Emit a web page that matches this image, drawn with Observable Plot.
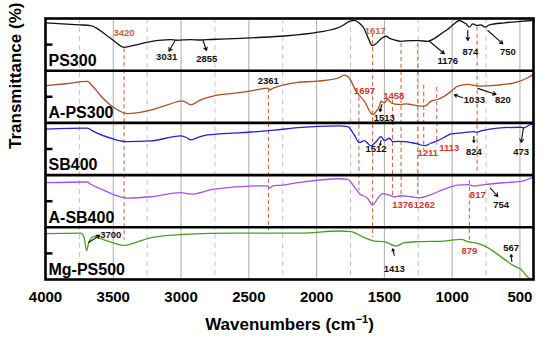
<!DOCTYPE html>
<html><head><meta charset="utf-8">
<script src="https://cdn.jsdelivr.net/npm/d3@7"></script>
<script src="https://cdn.jsdelivr.net/npm/@observablehq/plot@0.6"></script>
<style>
body{margin:0;background:#fff}
svg{display:block}
g[aria-label="x-axis tick label"] text{font-weight:bold}
</style>
</head><body><div id="chart"></div>
<script>
// ---- data ----
const samples = ["PS300", "A-PS300", "SB400", "A-SB400", "Mg-PS500"];
const sampleColors = ["#111111", "#a8502a", "#2222d4", "#a452e8", "#4c9c24"];

// [wavenumber (cm-1), transmittance within panel (%)]
const ps300 = [[4000,91.7],[3750,87.9],[3667,86.5],[3550,68],[3480,54],[3420,44.8],[3340,49],[3225,55.8],[3075,59.6],[3031,58.3],[2928,59.6],[2855,58.8],[2780,59.8],[2560,62.1],[2265,66],[1990,73.7],[1820,84.6],[1748,95.5],[1723,96.5],[1680,90],[1650,80.8],[1615,60],[1590,48.1],[1560,52],[1525,61],[1488,66],[1460,62],[1427,59],[1378,56.3],[1304,57.7],[1240,57.5],[1180,56.3],[1130,62],[1082,70.6],[1030,80],[984,89.8],[947,96.2],[920,93],[898,89.8],[873,83.3],[849,89.8],[830,88],[817,86.5],[788,87.9],[758,83.3],[725,87.9],[614,91.7],[515,94.2],[417,96.2],[400,96.5]];
const aps300 = [[4000,71.2],[3850,75],[3692,79.4],[3655,71.2],[3593,51.9],[3497,29.4],[3396,17.9],[3248,23.1],[3100,34.6],[2990,42.3],[2928,34.6],[2855,44.2],[2757,51.9],[2558,58.3],[2380,66],[2362,66.7],[2345,63.5],[2320,66.5],[2265,71.2],[2140,77.5],[1990,80],[1835,86.5],[1796,91.7],[1760,86.5],[1710,61],[1648,41.7],[1586,16],[1560,22],[1537,32.1],[1525,41.7],[1500,38.5],[1476,44.8],[1451,38.5],[1420,36],[1377,35.2],[1340,36.5],[1304,35.2],[1230,32.1],[1193,33.3],[1156,41.7],[1107,44.8],[1057,51.3],[1000,62],[959,70.6],[885,73.7],[811,70.6],[664,72.5],[541,76.9],[442,86.5],[400,92.9]];
const sb400 = [[4000,87.9],[3692,89.8],[3643,83.3],[3495,68.7],[3396,64],[3224,65.4],[3002,75],[2960,72],[2928,67.3],[2880,72],[2805,76.9],[2558,81.3],[2312,86],[2140,91],[1835,94.2],[1771,92.9],[1722,76.9],[1685,62.1],[1648,66],[1623,61],[1599,55.8],[1562,64],[1525,73.7],[1500,66],[1464,70.6],[1439,64],[1400,64.5],[1353,64],[1300,62],[1254,59.6],[1205,56.3],[1156,61],[1107,66],[1060,72],[1009,78.8],[930,81],[836,83.3],[824,82],[780,85],[664,89.8],[491,91.7],[473,90.5],[430,96],[400,99]];
const asb400 = [[4000,85.5],[3692,86.8],[3667,82.5],[3580,72],[3495,62.3],[3396,56],[3224,58.5],[3002,66.6],[2928,63.6],[2757,73],[2380,79.5],[2362,79.2],[2345,75.5],[2320,79.5],[2265,80.5],[2140,85.5],[1835,93],[1771,91.9],[1722,77.4],[1685,64.7],[1623,55.3],[1586,42.8],[1549,55.3],[1513,64.7],[1464,61.7],[1427,58.5],[1377,60.4],[1304,58.5],[1242,56.6],[1156,62.8],[1057,73],[959,80.6],[885,81.7],[836,79.2],[762,81.7],[614,85.5],[491,88.1],[400,96.2]];
const mgps500 = [[4000,87.9],[3741,89],[3716,81.3],[3697,55],[3680,71.7],[3643,82.7],[3593,78.3],[3495,69.8],[3421,65.4],[3347,69.8],[3248,78.3],[3100,84.6],[2978,86.5],[2608,89],[2116,89],[1835,92.9],[1748,91.7],[1648,80.2],[1574,73.7],[1500,72.5],[1414,64],[1353,70.6],[1254,72.5],[1057,73.7],[934,76.9],[885,72.5],[811,69.2],[738,61],[664,48.1],[590,34],[541,25.6],[491,19.2],[442,4.4],[410,1],[400,3]];
const spectra = [ps300, aps300, sb400, asb400, mgps500];

const xTicks = [4000, 3500, 3000, 2500, 2000, 1500, 1000, 500];
const xMinor = [3750, 3250, 2750, 2250, 1750, 1250, 750];

// peak labels: [text, panel, wavenumber, level %, kind]
const peakLabels = [
  ["3420",0,3421,72.6,"b"],["3031",0,3106,25.9,"k"],["2855",0,2810,22.8,"k"],["1617",0,1567,75.7,"b"],["1176",0,1032,18.2,"k"],["874",0,866,35.4,"k"],["750",0,589,35.4,"k"],
  ["2361",1,2357,81.2,"k"],["1697",1,1647,60.7,"r"],["1458",1,1431,51.1,"r"],["1513",1,1501,9.8,"k"],["1033",1,836,44.3,"k"],["820",1,626,44.3,"k"],
  ["1512",2,1562,50.4,"k"],["1211",2,1180,42.7,"r"],["1113",2,1021,52.3,"r"],["824",2,840,44.6,"k"],["473",2,491,44.6,"k"],
  ["1376",3,1365,43.1,"r"],["1262",3,1205,43.1,"r"],["817",3,811,62.3,"r"],["754",3,639,43.1,"k"],
  ["3700",4,3519,86.2,"k"],["1413",4,1427,20.5,"k"],["879",4,873,54.2,"r"],["567",4,565,60.7,"k"]
];
// arrows: [panel, wn from, level from, wn to, level to]
const peakArrows = [
  [0,3044,57.9,3089,37.4],[0,2838,57.9,2812,38.7],[0,1168,56.5,1058,32.4],[0,885,77,885,57.9],[0,737,77,626,51.5],
  [1,1518,35.2,1533,21.8],[1,922,48.3,984,53.8],[1,811,66.1,676,54.6],
  [2,1525,66.3,1532,56.7],[2,840,74.5,840,62.5],[2,474,90.6,491,62.5],
  [3,718,74.9,663,59],
  [4,3682,70.9,3600,84.9],[4,1427,46,1439,58.8],[4,560,34.5,565,47.9]
];
// dashed peak guide lines: [wavenumber, stacked top, stacked bottom]
const guideLines = [[3420,442,75],[2355,366,94],[1688,349,170],[1587,471,80],[1440,343,157],[1377,452,155],[1254,452,157],[1210,372,247],[1114,368,257],[816,483,199],[873,190,71]];

// ---- build ----
const offset = i => (samples.length - 1 - i) * 100;
const rows = spectra.flatMap((s, i) =>
  s.map(([wn, t]) => ({sample: samples[i], wn, y: offset(i) + t})).sort((a, b) => a.wn - b.wn));
const kindColor = {k: "#111111", r: "#d4382a", b: "#c8643c"};
const labelRows = peakLabels.map(([text, p, wn, lvl, kind]) => ({text, wn, y: offset(p) + lvl, fill: kindColor[kind]}));
const arrowRows = peakArrows.map(([p, a, la, b, lb]) => ({x1: a, y1: offset(p) + la, x2: b, y2: offset(p) + lb}));
const guideRows = guideLines.map(([wn, top, bot]) => ({wn, top, bot}));
const nameRows = samples.map((s, i) => ({s, y: offset(i) + 9}));
const font = "'Liberation Sans', Arial, sans-serif";

const chart = Plot.plot({
  width: 550, height: 348,
  marginLeft: 45, marginRight: 17, marginTop: 18, marginBottom: 69,
  style: {fontFamily: font, background: "#fff"},
  x: {domain: [4000, 400], axis: null},
  y: {domain: [0, 500], axis: null},
  color: {domain: samples, range: sampleColors},
  marks: [
    Plot.ruleX(xMinor, {stroke: "#c4c4c4", strokeDasharray: "5,4", strokeWidth: 1}),
    Plot.ruleX(xTicks.slice(1), {stroke: "#ababab", strokeWidth: 1}),
    Plot.ruleX(guideRows, {x: "wn", y1: "top", y2: "bot", stroke: "#cc6d48", strokeDasharray: "4,3", strokeWidth: 1.1}),
    Plot.line(rows, {x: "wn", y: "y", z: "sample", stroke: "sample", strokeWidth: 1.3, curve: "monotone-x"}),
    Plot.ruleY([100, 200, 300, 400], {stroke: "#000", strokeWidth: 2.6}),
    Plot.frame({stroke: "#000", strokeWidth: 2.6}),
    Plot.ruleY([50, 150, 250, 350, 450], {x1: 4000, x2: 3945, stroke: "#000", strokeWidth: 2.5}),
    Plot.text(nameRows, {x: 4000, y: "y", text: "s", dx: 3, textAnchor: "start", lineAnchor: "bottom", fontSize: 16, fontWeight: "bold", fill: "#000"}),
    Plot.arrow(arrowRows, {x1: "x1", y1: "y1", x2: "x2", y2: "y2", stroke: "#111", strokeWidth: 1.1, headLength: 5}),
    Plot.text(labelRows, {x: "wn", y: "y", text: "text", fill: "fill", fontSize: 9.5, fontWeight: "bold"}),
    Plot.axisX(xTicks, {tickSize: 0, tickPadding: 12, fontSize: 15, fontWeight: "bold", label: null, tickFormat: d => String(d)}),
    Plot.text(["Transmittance (%)"], {frameAnchor: "left", rotate: -90, dx: -30, fontSize: 17, fontWeight: "bold", fill: "#000"}),
    Plot.text(["Wavenumbers (cm-1)"], {frameAnchor: "bottom", dy: 50, fontSize: 17, fontWeight: "bold", fill: "#000"})
  ]
});
document.getElementById("chart").appendChild(chart);

d3.select(chart).selectAll("text")
  .filter(function() { return this.textContent === "Wavenumbers (cm-1)"; })
  .html('Wavenumbers (cm<tspan dy="-7" font-size="11">\u22121</tspan><tspan dy="7">)</tspan>');
</script>
</body></html>
